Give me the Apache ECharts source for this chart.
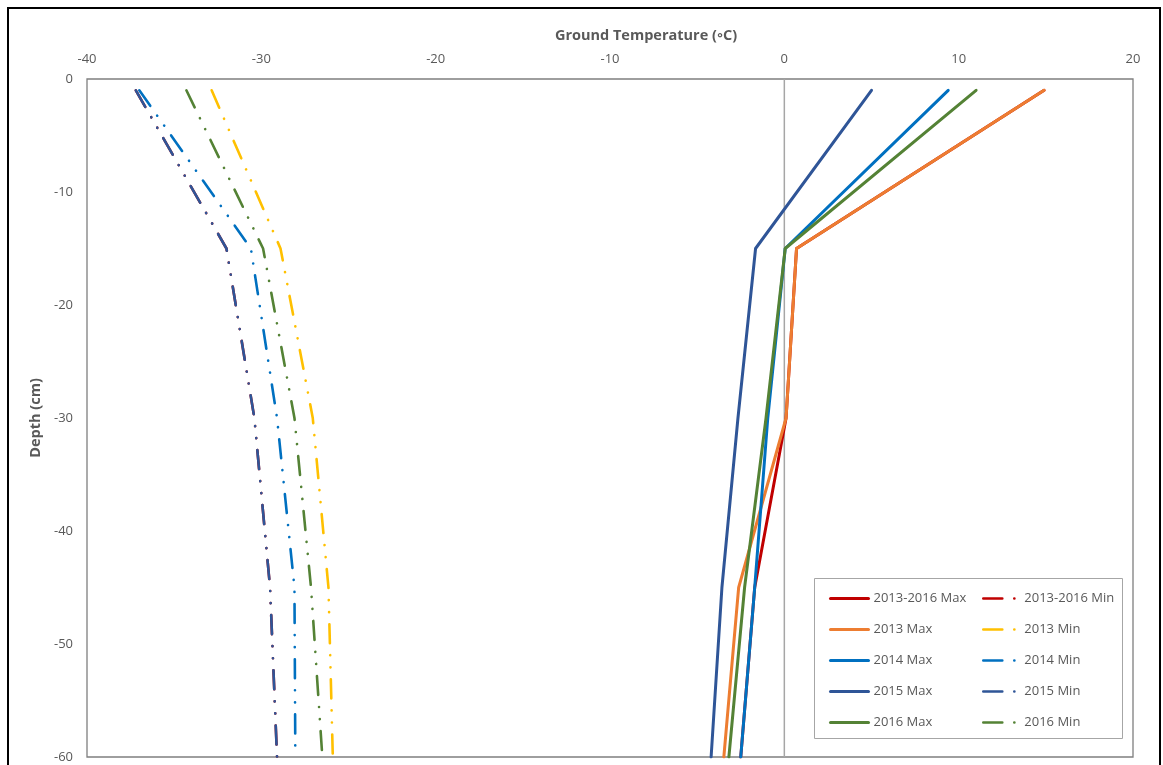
<!DOCTYPE html>
<html>
<head>
<meta charset="utf-8">
<script src="https://cdn.jsdelivr.net/npm/echarts@6/dist/echarts.min.js"></script>
<style>
html,body{margin:0;padding:0;background:#fff;}
#chart{width:1163px;height:765px;}
</style>
</head>
<body>
<div id="chart"></div>
<script>
// Depth of each measurement (cm)
const depths = [-1, -15, -30, -45, -60];
// Ground temperature (°C) at each depth
const max2013_2016 = [14.9, 0.7, 0.1, -1.7, -2.5];
const min2013_2016 = [-37.2, -32.0, -30.4, -29.5, -29.1];
const max2013 = [14.9, 0.7, 0.1, -2.62, -3.47];
const min2013 = [-32.85, -28.9, -27.05, -26.15, -25.9];
const max2014 = [9.4, 0.05, -0.95, -1.7, -2.5];
const min2014 = [-37.0, -30.6, -29.1, -28.1, -28.05];
const max2015 = [5.0, -1.65, -2.66, -3.58, -4.2];
const min2015 = [-37.2, -32.0, -30.4, -29.5, -29.1];
const max2016 = [11.0, 0.05, -1.05, -2.28, -3.18];
const min2016 = [-34.3, -29.9, -28.1, -27.15, -26.5];

const xTicks = [-40, -30, -20, -10, 0, 10, 20];
const yTicks = [0, -10, -20, -30, -40, -50, -60];

const seriesDefs = [
  {name: '2013-2016 Max', values: max2013_2016, color: '#C00000', min: false},
  {name: '2013-2016 Min', values: min2013_2016, color: '#C00000', min: true},
  {name: '2013 Max', values: max2013, color: '#ED7D31', min: false},
  {name: '2013 Min', values: min2013, color: '#FFC000', min: true},
  {name: '2014 Max', values: max2014, color: '#0070C0', min: false},
  {name: '2014 Min', values: min2014, color: '#0070C0', min: true},
  {name: '2015 Max', values: max2015, color: '#2F5597', min: false},
  {name: '2015 Min', values: min2015, color: '#2F5597', min: true},
  {name: '2016 Max', values: max2016, color: '#548235', min: false},
  {name: '2016 Min', values: min2016, color: '#548235', min: true}
];

const FONT = '"Open Sans", Lato, sans-serif';
const TXT = '#595959';

const series = seriesDefs.map(function (d) {
  return {
    name: d.name,
    type: 'line',
    symbol: 'none',
    data: d.values.map(function (v, i) { return [v, depths[i]]; }),
    itemStyle: {color: d.color},
    lineStyle: d.min ? {
      color: d.color, width: 2.6, cap: 'round',
      type: [19, 12, 0.1, 12, 0.1, 12]
    } : {color: d.color, width: 3, cap: 'round', join: 'round'},
    animation: false,
    z: 3
  };
});

// vertical zero line
series.unshift({
  name: 'zero',
  type: 'line',
  symbol: 'none',
  data: [[0, 0], [0, -60]],
  lineStyle: {color: '#A6A6A6', width: 1.5},
  silent: true,
  animation: false,
  z: 2
});

const chart = echarts.init(document.getElementById('chart'), null, {renderer: 'canvas'});
chart.setOption({
  backgroundColor: '#fff',
  animation: false,
  grid: {
    left: 87, right: 30, top: 79, bottom: 8,
    containLabel: false,
    show: true, borderColor: '#7F7F7F', borderWidth: 1.3, backgroundColor: 'transparent'
  },
  xAxis: {
    type: 'value',
    position: 'top',
    min: xTicks[0], max: xTicks[xTicks.length - 1], interval: 10,
    name: 'Ground Temperature (\u25E6C)',
    nameLocation: 'middle',
    nameGap: 36,
    nameTextStyle: {fontFamily: FONT, fontSize: 14.5, fontWeight: 'bold', color: TXT, padding: [0, 0, 0, 72]},
    axisLine: {show: false},
    axisTick: {show: false},
    splitLine: {show: false},
    axisLabel: {fontFamily: FONT, fontSize: 13, color: TXT, margin: 13}
  },
  yAxis: {
    type: 'value',
    min: yTicks[yTicks.length - 1], max: yTicks[0], interval: 10,
    name: 'Depth (cm)',
    nameLocation: 'middle',
    nameGap: 42,
    nameRotate: 90,
    nameTextStyle: {fontFamily: FONT, fontSize: 14.5, fontWeight: 'bold', color: TXT},
    axisLine: {show: false},
    axisTick: {show: false},
    splitLine: {show: false},
    axisLabel: {fontFamily: FONT, fontSize: 13, color: TXT, margin: 14}
  },
  legend: [
    {
      orient: 'vertical', left: 824, top: 587, z: 20,
      itemWidth: 38, itemHeight: 14, itemGap: 18,
      itemStyle: {opacity: 0},
      lineStyle: {width: 3},
      data: seriesDefs.filter(function (d) { return !d.min; }).map(function (d) { return d.name; }),
      textStyle: {fontFamily: FONT, fontSize: 13, color: TXT},
      selectedMode: false
    },
    {
      orient: 'vertical', left: 977, top: 587, z: 20,
      itemWidth: 36, itemHeight: 14, itemGap: 18,
      itemStyle: {opacity: 0},
      lineStyle: {width: 2.6},
      data: seriesDefs.filter(function (d) { return d.min; }).map(function (d) { return d.name; }),
      textStyle: {fontFamily: FONT, fontSize: 13, color: TXT},
      selectedMode: false
    }
  ],
  graphic: [
    {type: 'rect', shape: {x: 814.5, y: 578.5, width: 308, height: 160},
     style: {fill: '#fff', stroke: '#A6A6A6', lineWidth: 1}, z: 1, silent: true},
    {type: 'rect', shape: {x: 8, y: 8, width: 1152, height: 800},
     style: {fill: 'none', stroke: '#000', lineWidth: 2}, z: 30, silent: true}
  ],
  series: series
});
</script>
</body>
</html>
